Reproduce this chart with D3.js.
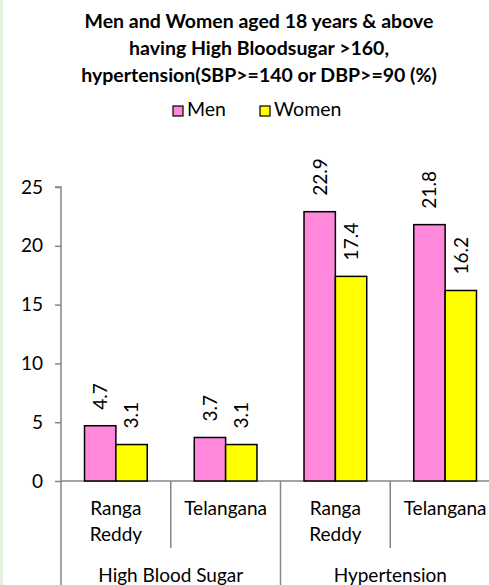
<!DOCTYPE html>
<html>
<head>
<meta charset="utf-8">
<script src="https://cdn.jsdelivr.net/npm/d3@7"></script>
<style>
  body { margin: 0; background: #fff; }
  svg { display: block; font-family: Lato, "Liberation Sans", sans-serif; }
</style>
</head>
<body>
<svg id="chart" width="489" height="585"></svg>
<script>
// Data
const titleLines = ['Men and Women aged 18 years & above', 'having High Bloodsugar >160,', 'hypertension(SBP>=140 or DBP>=90 (%)']
const groups = ['High Blood Sugar', 'Hypertension']
const places = ['Ranga Reddy', 'Telangana']
const series = ['Men', 'Women']
const menValues = [4.7, 3.7, 22.9, 21.8]
const womenValues = [3.1, 3.1, 17.4, 16.2]
const yTicks = [0, 5, 10, 15, 20, 25]

const colors = {Men: '#ff88dd', Women: '#ffff00'}
const axisColor = '#868686'

const svg = d3.select('#chart')

// left green strip
svg.append('rect').attr('x', 0).attr('y', 0).attr('width', 3).attr('height', 585).attr('fill', '#e4f1dd')

// Categories (group x place)
const cats = []
groups.forEach(g => places.forEach(p => cats.push({group: g, place: p, key: g + '|' + p})))
cats.forEach((c, i) => { c.Men = menValues[i]; c.Women = womenValues[i] })

const x = d3.scaleBand()
    .domain(cats.map(c => c.key))
    .range([61, 500])
    .padding(0)

const xs = d3.scaleBand()
    .domain(series)
    .range([0, x.bandwidth()])
    .paddingInner(0)
    .paddingOuter(0.75)

const y = d3.scaleLinear()
    .domain([0, 25])
    .range([481, 187])

// Title
svg.append('g')
    .selectAll('text')
    .data(titleLines)
    .enter()
    .append('text')
    .attr('x', 259)
    .attr('y', (_, i) => 28 + i * 27)
    .attr('text-anchor', 'middle')
    .style('font-size', '19.5px')
    .style('font-weight', 'bold')
    .text(d => d)

// Legend
const legend = svg.append('g')
const legendX = [173, 260]
series.forEach((s, i) => {
    legend.append('rect')
        .attr('x', legendX[i]).attr('y', 106)
        .attr('width', 10).attr('height', 10)
        .attr('fill', colors[s]).attr('stroke', '#000').attr('stroke-width', 1.2)
    legend.append('text')
        .attr('x', legendX[i] + 14).attr('y', 116)
        .style('font-size', '19.5px')
        .text(s)
})

// Y axis
const yAxis = svg.append('g')
    .attr('transform', 'translate(61,0)')
    .call(d3.axisLeft(y).tickValues(yTicks).tickSize(6).tickPadding(12))
yAxis.select('.domain').attr('stroke', axisColor).attr('stroke-width', 1.5).attr('d', 'M-6,187H0V481')
yAxis.selectAll('.tick line').attr('stroke', axisColor).attr('stroke-width', 1.5)
yAxis.selectAll('.tick text').style('font-size', '19px').style('font-family', 'Lato, sans-serif').attr('fill', '#000')

// Zero baseline
svg.append('line')
    .attr('x1', 61).attr('x2', 500).attr('y1', y(0)).attr('y2', y(0))
    .attr('stroke', axisColor).attr('stroke-width', 1.5)

// Separators below the axis
const sepData = cats.map((c, i) => ({x: x(c.key), long: places.indexOf(c.place) == 0}))
svg.append('g')
    .selectAll('line')
    .data(sepData)
    .enter()
    .append('line')
    .attr('x1', d => d.x).attr('x2', d => d.x)
    .attr('y1', y(0)).attr('y2', d => d.long ? 585 : 548)
    .attr('stroke', axisColor).attr('stroke-width', 1.5)

// Bars
const catG = svg.append('g')
    .selectAll('g')
    .data(cats)
    .enter()
    .append('g')
    .attr('transform', d => 'translate(' + x(d.key) + ',0)')

catG.selectAll('rect')
    .data(d => series.map(s => ({s: s, v: d[s]})))
    .enter()
    .append('rect')
    .attr('x', d => xs(d.s))
    .attr('y', d => y(d.v))
    .attr('width', xs.bandwidth())
    .attr('height', d => y(0) - y(d.v))
    .attr('fill', d => colors[d.s])
    .attr('stroke', '#000')
    .attr('stroke-width', 1.5)

// Value labels (rotated)
catG.selectAll('text.val')
    .data(d => series.map(s => ({s: s, v: d[s]})))
    .enter()
    .append('text')
    .classed('val', true)
    .attr('transform', d => 'translate(' + (xs(d.s) + xs.bandwidth() / 2) + ',' + (y(d.v) - 16) + ') rotate(-90)')
    .attr('dy', '0.36em')
    .style('font-size', '19px')
    .text(d => d.v.toFixed(1))

// Place labels
catG.each(function(d){
    const words = d.place.split(' ')
    const t = d3.select(this).append('text')
        .attr('text-anchor', 'middle')
        .style('font-size', '19px')
    words.forEach((w, i) => {
        t.append('tspan')
            .attr('x', x.bandwidth() / 2)
            .attr('y', 515 + i * 26)
            .text(w)
    })
})

// Group labels
svg.append('g')
    .selectAll('text')
    .data(groups)
    .enter()
    .append('text')
    .attr('x', g => (x(g + '|' + places[0]) + x(g + '|' + places[1]) + x.bandwidth()) / 2)
    .attr('y', 582)
    .attr('text-anchor', 'middle')
    .style('font-size', '19px')
    .text(g => g)
</script>
</body>
</html>
